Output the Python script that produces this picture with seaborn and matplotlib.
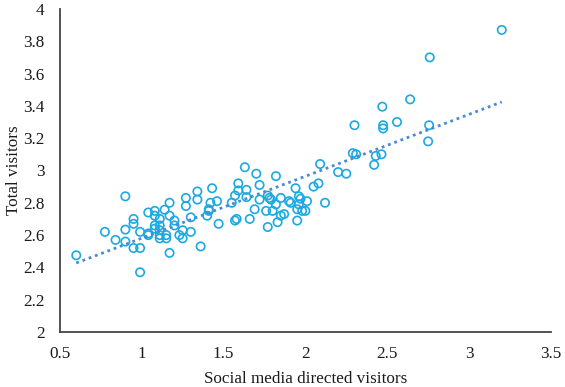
import matplotlib
matplotlib.use("Agg")
import matplotlib.pyplot as plt
import seaborn as sns
from matplotlib.ticker import FuncFormatter

# Social media directed visitors (x) and total visitors (y)
social_visitors = [
    0.60, 0.90, 0.775, 0.84, 0.90, 0.90, 0.95, 0.95, 0.95, 0.99,
    0.99, 0.99, 1.04, 1.08, 1.08, 1.04, 1.04, 1.08, 1.08, 1.11,
    1.11, 1.11, 1.11, 1.11, 1.15, 1.15, 1.17, 1.14, 1.17, 1.20,
    1.20, 1.17, 1.23, 1.25, 1.25, 1.27, 1.27, 1.30, 1.30, 1.34,
    1.34, 1.36, 1.43, 1.42, 1.46, 1.41, 1.41, 1.40, 1.47,
    1.63, 1.70, 1.82, 1.59, 1.72, 2.08, 2.05, 1.94, 1.59, 1.64,
    1.57, 1.55, 1.64, 1.72, 1.77, 1.78, 1.79, 1.82, 1.85, 1.90,
    1.91, 1.96, 1.97, 2.01, 1.96, 1.95, 1.98, 2.00, 2.12, 1.69,
    1.76, 1.80, 1.66, 1.57, 1.58, 1.77, 1.83, 1.85, 1.87, 1.95,
    2.29, 2.31, 2.09, 2.20, 2.25, 2.42, 2.43,
    3.20, 2.76, 2.64, 2.47, 2.475, 2.475, 2.56, 2.756, 2.75, 2.465,
    2.30,
]
total_visitors = [
    2.475, 2.84, 2.62, 2.57, 2.634, 2.56, 2.70, 2.67, 2.52, 2.52,
    2.37, 2.62, 2.74, 2.75, 2.72, 2.61, 2.60, 2.66, 2.64, 2.70,
    2.66, 2.63, 2.60, 2.58, 2.60, 2.58, 2.80, 2.757, 2.72, 2.69,
    2.66, 2.49, 2.60, 2.63, 2.58, 2.83, 2.78, 2.71, 2.62, 2.87,
    2.82, 2.53, 2.89, 2.80, 2.81, 2.76, 2.75, 2.72, 2.67,
    3.02, 2.98, 2.965, 2.92, 2.91, 2.92, 2.90, 2.89, 2.876, 2.88,
    2.845, 2.80, 2.835, 2.82, 2.845, 2.83, 2.82, 2.79, 2.83, 2.81,
    2.80, 2.84, 2.825, 2.81, 2.79, 2.76, 2.75, 2.75, 2.80, 2.76,
    2.75, 2.75, 2.70, 2.69, 2.70, 2.65, 2.68, 2.72, 2.73, 2.69,
    3.107, 3.10, 3.04, 2.99, 2.98, 3.035, 3.09,
    3.87, 3.70, 3.44, 3.395, 3.28, 3.26, 3.30, 3.28, 3.18, 3.10,
    3.28,
]

x_ticks = [0.5, 1, 1.5, 2, 2.5, 3, 3.5]
y_ticks = [2, 2.2, 2.4, 2.6, 2.8, 3, 3.2, 3.4, 3.6, 3.8, 4]

sns.set_theme(style="white")
plt.rcParams["font.family"] = ["Liberation Serif", "DejaVu Serif"]

fig, ax = plt.subplots(figsize=(5.65, 3.87), dpi=100)
fig.subplots_adjust(left=0.106, right=0.975, bottom=0.142, top=0.977)

sns.scatterplot(
    x=social_visitors,
    y=total_visitors,
    ax=ax,
    marker="o",
    s=36,
    facecolor="none",
    edgecolor="#1BA9E2",
    linewidth=1.2,
)

# linear trendline (dotted)
sns.regplot(
    x=social_visitors,
    y=total_visitors,
    ax=ax,
    scatter=False,
    ci=None,
    line_kws=dict(color="#4A8AD0", lw=2, linestyle=(0, (1, 1.4))),
)

ax.set_xlim(0.5, 3.5)
ax.set_ylim(2, 4)
ax.set_xticks(x_ticks)
ax.set_yticks(y_ticks)
fmt = FuncFormatter(lambda v, _: f"{v:g}")
ax.xaxis.set_major_formatter(fmt)
ax.yaxis.set_major_formatter(fmt)
ax.tick_params(length=0, labelsize=12.3, colors="#1a1a1a")
ax.tick_params(axis="x", pad=10)
ax.tick_params(axis="y", pad=11)

ax.set_xlabel("Social media directed visitors", fontsize=12.3, color="#1a1a1a", labelpad=6.5)
ax.set_ylabel("Total visitors", fontsize=12.3, color="#1a1a1a", labelpad=1)

sns.despine(ax=ax)
for side in ("left", "bottom"):
    ax.spines[side].set_color("#444444")
    ax.spines[side].set_linewidth(1.3)

fig.savefig("out.png", dpi=100)
